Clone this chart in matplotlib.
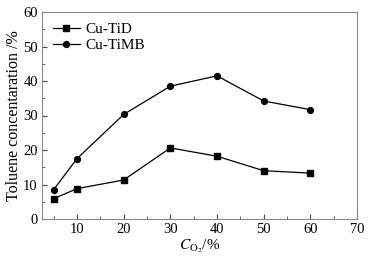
import numpy as np
import matplotlib
matplotlib.use('Agg')
import matplotlib.pyplot as plt
from matplotlib.ticker import MultipleLocator

# data
co2 = [5, 10, 20, 30, 40, 50, 60]
cu_tid = [5.9, 8.8, 11.3, 20.6, 18.2, 14.0, 13.3]
cu_timb = [8.5, 17.5, 30.3, 38.5, 41.5, 34.2, 31.7]

plt.rcParams['font.family'] = ['Liberation Serif', 'DejaVu Serif']
plt.rcParams['mathtext.fontset'] = 'stix'

fig = plt.figure(figsize=(3.85, 2.58), dpi=100)
ax = fig.add_axes([42/385, 1 - 219/258, (357-42)/385, (219-12)/258])

ax.plot(co2, cu_tid, 'k-s', ms=4.2, lw=0.9, label='Cu-TiD')
ax.plot(co2, cu_timb, 'k-o', ms=4.2, lw=0.9, label='Cu-TiMB')

ax.set_xlim(2.5, 70); ax.set_ylim(0, 60)
ax.xaxis.set_major_locator(MultipleLocator(10)); ax.xaxis.set_minor_locator(MultipleLocator(5))
ax.yaxis.set_major_locator(MultipleLocator(10)); ax.yaxis.set_minor_locator(MultipleLocator(5))
ax.set_xticks([10, 20, 30, 40, 50, 60, 70])
ax.tick_params(which='both', direction='in', labelsize=10.5, color='#444444', pad=3)
ax.tick_params(which='major', length=3.5)
ax.tick_params(which='minor', length=2)
for s in ax.spines.values():
    s.set_color('#888888'); s.set_linewidth(0.8)

ax.set_xlabel(r'$C_{\mathrm{O_2}}$/%', fontsize=11, labelpad=1)
ax.set_ylabel('Toluene concentaration /%', fontsize=11.5, labelpad=1)
ax.legend(loc='upper left', frameon=False, fontsize=11, handlelength=1.8,
          handletextpad=0.35, borderaxespad=0.4, labelspacing=0.15, borderpad=0.3)

plt.savefig('out.png', dpi=100)
